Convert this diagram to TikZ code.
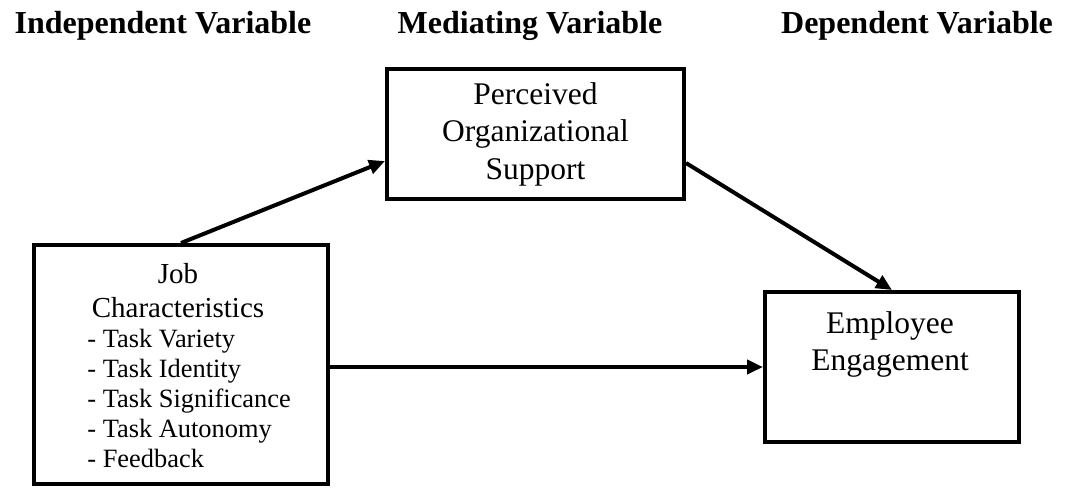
\documentclass[tikz,border=0pt]{standalone}
\usepackage{fontspec}
\setmainfont{Liberation Serif}
\usetikzlibrary{positioning,arrows.meta}

\begin{document}
\begin{tikzpicture}[
    x=0.5pt, y=-0.5pt,
    >={Triangle[length=8pt,width=7pt]},
    box/.style={
        draw,
        line width=2pt,
        inner sep=0pt
    },
    head/.style={
        font=\fontsize{16}{19}\selectfont\bfseries,
        anchor=base,
        inner sep=0pt
    },
    txt/.style={
        align=center,
        inner sep=0pt,
        font=\fontsize{15.75}{18.75}\selectfont
    },
    link/.style={->, line width=2pt}
]
  \useasboundingbox (0,0) rectangle (1069,489);

  % headings
  \node[head] (hind) at (163,33) {Independent Variable};
  \node[head] (hmed) at (530,33) {Mediating Variable};
  \node[head] (hdep) at (917,33) {Dependent Variable};

  % boxes
  \node[box,txt,minimum width=148.5pt,minimum height=65pt,anchor=north west] (pos) at (385,67) {Perceived\\Organizational\\Support};
  \node[box,minimum width=147pt,minimum height=119.5pt,anchor=north west] (job) at (32,243) {};
  \node[box,minimum width=127pt,minimum height=75pt,anchor=north west] (ee) at (763,290) {};

  % texts inside the boxes
  \node[txt,anchor=north,font=\fontsize{14.5}{17}\selectfont] (jobtitle) at (178,263) {Job\\Characteristics};
  \node[txt,align=left,anchor=north west,font=\fontsize{13.2}{15}\selectfont] (joblist) at (87,329)
    {- Task Variety\\- Task Identity\\- Task Significance\\- Task Autonomy\\- Feedback};
  \node[txt,anchor=north] (eetext) at (890,311) {Employee\\Engagement};

  % links
  \draw[link] (job.north) -- ([yshift=20pt]pos.south west);
  \draw[link] ([yshift=19pt]pos.south east) -- (ee.north);
  \draw[link] (job.east |- ee.west) -- (ee.west);
\end{tikzpicture}
\end{document}
